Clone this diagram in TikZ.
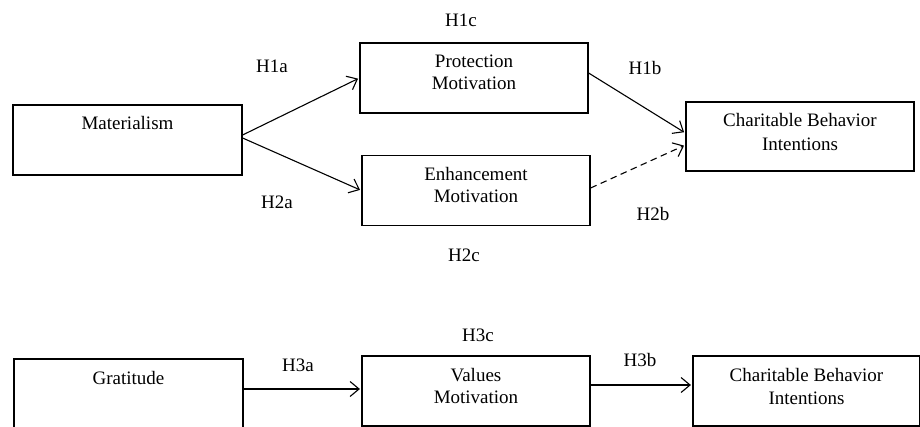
\documentclass[tikz,border=0pt]{standalone}
\usepackage{fontspec}
\setmainfont{Liberation Serif}
\usetikzlibrary{arrows.meta,calc}
\begin{document}
\begin{tikzpicture}[x=1pt,y=-1pt,
  box/.style={draw, line width=1.2pt, rectangle, minimum width=228pt, minimum height=70pt, inner sep=0pt},
  txt/.style={font=\fontsize{19}{22}\selectfont, align=center, inner sep=0pt, anchor=north},
  lbl/.style={font=\fontsize{19}{22}\selectfont, inner sep=0pt, text depth=0pt},
  arr/.style={line width=1.1pt, -{Straight Barb[length=9pt,width=15pt,line width=1.1pt]}, shorten >=1.5pt}
]
\useasboundingbox (0,0) rectangle (920,427);
% top diagram boxes
\node[box, minimum width=229pt] (mat) at (127.5,140) {};
\node[box] (prot) at (474,78) {};
\node[box] (enh) at (476,190.5) {};
\node[box, minimum height=69pt] (cbia) at (800,136.5) {};
\node[txt] (matt) at (127.5,116.3) {Materialism};
\node[txt] (prott) at (474,55) {Protection\\Motivation};
\node[txt] (enht) at (476,167.1) {Enhancement\\Motivation};
\node[txt] (cbiat) at (800,113.3) {Charitable Behavior\\[2.3pt]Intentions};
% bottom diagram boxes
\node[box, minimum width=229pt] (grat) at (128.5,394) {};
\node[box] (val) at (476,391) {};
\node[box, minimum width=227pt] (cbib) at (806.5,391) {};
\node[txt] (gratt) at (128.5,371.5) {Gratitude};
\node[txt] (valt) at (476,368.3) {Values\\Motivation};
\node[txt] (cbibt) at (806.5,368) {Charitable Behavior\\[1.2pt]Intentions};
% connectors
\draw[arr] ($(mat.east)+(0,-5)$) -- (prot.west);
\draw[arr] ($(mat.east)+(0,-2)$) -- (enh.west);
\draw[arr] ($(prot.east)+(0,-5)$) -- ($(cbia.west)+(0,-3.5)$);
\draw[arr, dash pattern=on 6.5pt off 4.5pt] ($(enh.east)+(0,-2.5)$) -- ($(cbia.west)+(0,8.5)$);
\draw[arr] (grat.east |- 0,389) -- (val.west |- 0,389);
\draw[arr] (val.east |- 0,385) -- (cbib.west |- 0,385);
% labels
\node[lbl] (h1a) at (272,66) {H1a};
\node[lbl] (h2a) at (277,202) {H2a};
\node[lbl] (h1c) at (461,20) {H1c};
\node[lbl] (h1b) at (645,68) {H1b};
\node[lbl] (h2b) at (653,214) {H2b};
\node[lbl] (h2c) at (464,255) {H2c};
\node[lbl] (h3a) at (298,365) {H3a};
\node[lbl] (h3c) at (478,335) {H3c};
\node[lbl] (h3b) at (640,360) {H3b};
\end{tikzpicture}
\end{document}
